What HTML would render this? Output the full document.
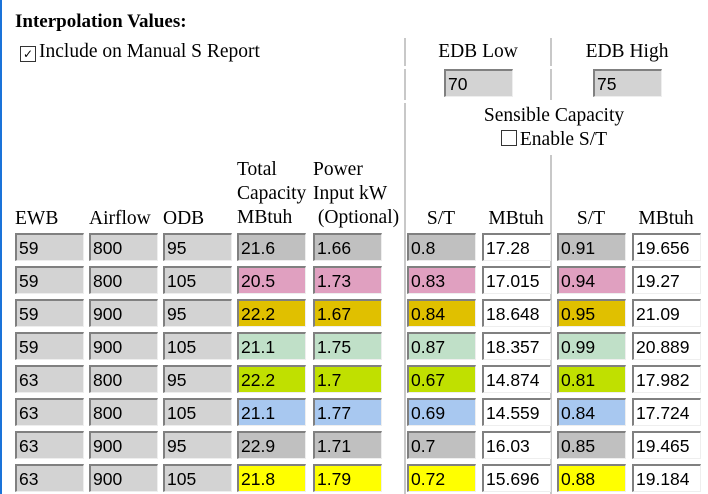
<!DOCTYPE html>
<html><head><meta charset="utf-8"><style>
body{margin:0;width:708px;height:494px;background:#fff;position:relative;overflow:hidden;font-family:"Liberation Serif","DejaVu Serif",serif;font-size:19.5px;color:#000}
.a{position:absolute;white-space:nowrap;line-height:1}
.i{position:absolute;height:25px;box-sizing:content-box;border-top:2px solid #808080;border-left:2px solid #808080;border-bottom:1px solid #eee;border-right:1px solid #eee;font-family:"Liberation Sans",sans-serif;font-size:17.5px;line-height:26px;padding-left:2px;width:64px;background:#d3d3d3;overflow:hidden}
.v{position:absolute;width:2px;background:#c8c8c8}
.cb{display:inline-block;width:14px;height:14px;border:1px solid #333;vertical-align:-1px;margin-right:3px;font-size:12px;line-height:14px;text-align:center;font-family:"DejaVu Sans",sans-serif}
</style></head><body>
<div style="position:absolute;left:0;top:0;width:2px;height:494px;background:#1a73d9"></div>
<div class="a" style="left:15px;top:12px;font-weight:bold;font-size:19px">Interpolation Values:</div>
<div class="a" style="left:20px;top:42px"><span class="cb">✓</span>Include on Manual S Report</div>
<div class="v" style="left:404px;top:38px;height:28px"></div>
<div class="v" style="left:404px;top:69px;height:31px"></div>
<div class="v" style="left:404px;top:103px;height:391px"></div>
<div class="v" style="left:550px;top:38px;height:28px"></div>
<div class="v" style="left:550px;top:69px;height:31px"></div>
<div class="v" style="left:550px;top:155px;height:339px"></div>
<div class="a" style="left:405px;width:146px;text-align:center;top:42px">EDB Low</div>
<div class="a" style="left:551px;width:152px;text-align:center;top:42px">EDB High</div>
<div class="i" style="left:444px;top:69px">70</div>
<div class="i" style="left:593px;top:69px">75</div>
<div class="a" style="left:405px;width:298px;text-align:center;top:106px">Sensible Capacity</div>
<div class="a" style="left:405px;width:298px;text-align:center;top:130px"><span class="cb"></span>Enable S/T</div>
<div class="a" style="left:15px;top:209px">EWB</div>
<div class="a" style="left:89px;top:209px">Airflow</div>
<div class="a" style="left:163px;top:209px">ODB</div>
<div class="a" style="left:237px;top:158px;line-height:24px">Total<br>Capacity<br>MBtuh</div>
<div class="a" style="left:313px;top:158px;line-height:24px">Power<br>Input kW<br>&nbsp;(Optional)</div>
<div class="a" style="left:407px;width:68px;text-align:center;top:209px">S/T</div>
<div class="a" style="left:482px;width:68px;text-align:center;top:209px">MBtuh</div>
<div class="a" style="left:557px;width:68px;text-align:center;top:209px">S/T</div>
<div class="a" style="left:632px;width:68px;text-align:center;top:209px">MBtuh</div>
<div id="rows"></div>
<script>
var d=[["59","800","95","21.6","1.66","0.8","17.28","0.91","19.656","#c0c0c0"],
["59","800","105","20.5","1.73","0.83","17.015","0.94","19.27","#e0a0c0"],
["59","900","95","22.2","1.67","0.84","18.648","0.95","21.09","#e0c000"],
["59","900","105","21.1","1.75","0.87","18.357","0.99","20.889","#c0e0c8"],
["63","800","95","22.2","1.7","0.67","14.874","0.81","17.982","#c0e000"],
["63","800","105","21.1","1.77","0.69","14.559","0.84","17.724","#a8c8f0"],
["63","900","95","22.9","1.71","0.7","16.03","0.85","19.465","#c0c0c0"],
["63","900","105","21.8","1.79","0.72","15.696","0.88","19.184","#ffff00"]];
var xs=[15,89,163,237,313,407,482,557,632],h="";
d.forEach(function(r,j){var y=233+33*j;for(var k=0;k<9;k++){var bg=k<3?"#d3d3d3":(k==6||k==8)?"#fff":r[9];h+='<div class="i" style="left:'+xs[k]+'px;top:'+y+'px;background:'+bg+'">'+r[k]+'</div>';}});
document.getElementById("rows").innerHTML=h;
</script>
</body></html>
